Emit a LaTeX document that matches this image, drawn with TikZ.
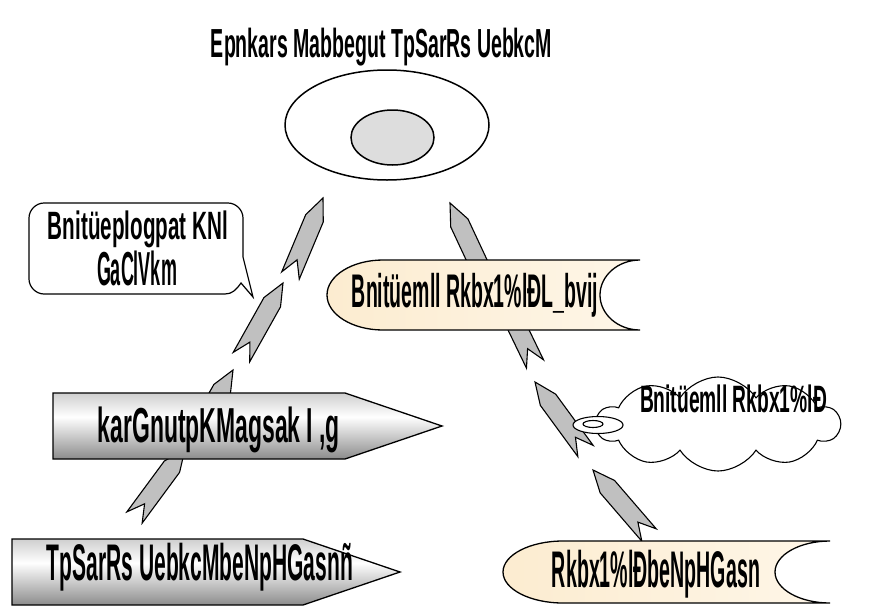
\documentclass[tikz,border=0pt]{standalone}
\usepackage{fontspec}
\setmainfont{Liberation Sans}
\usetikzlibrary{calc,shapes.geometric,shapes.symbols}

\definecolor{boltgray}{HTML}{C0C0C0}
\definecolor{coregray}{HTML}{DDDDDD}
\definecolor{steeltop}{HTML}{CFCFCF}
\definecolor{steelbot}{HTML}{8C8C8C}
\definecolor{creamleft}{RGB}{252,236,208}
\definecolor{creamright}{RGB}{254,246,232}

\pgfdeclareverticalshading{steel}{100bp}{color(0bp)=(steelbot); color(25bp)=(steelbot); color(57bp)=(white); color(75bp)=(steeltop); color(100bp)=(steeltop)}

% squeeze a text into a box of given width and height
\newcommand{\squash}[3]{\resizebox*{#1pt}{#2pt}{\bfseries #3}}
% notched arrow from tail (#1) to tip (#2)
\newcommand{\bolt}[2]{%
  \draw[bolt] ($(#1)!17pt!(#2)$) -- ($(#1)!9.5pt!90:(#2)$) -- ($(#2)!22pt!(#1)!9.5pt!-90:(#1)$) -- (#2) -- ($(#2)!22pt!(#1)!9.5pt!90:(#1)$) -- ($(#1)!9.5pt!-90:(#2)$) -- cycle;}

\begin{document}
\begin{tikzpicture}[x=1pt, y=-1pt,
	bolt/.style={draw=black, fill=boltgray, line width=1.1pt, line join=miter},
	word/.style={inner sep=0pt, text=black},
	banner/.style={draw=black, line width=1.3pt, left color=creamleft, right color=creamright}]

	\fill[white] (0,0) rectangle (869,608);
	\useasboundingbox (0,0) rectangle (869,608);

	% Arrow ends
	%Left chain
	\coordinate (lonetail) at (134.5,517.5);
	\coordinate (lonetip) at (185,449);
	\coordinate (ltwotail) at (191,444);
	\coordinate (ltwotip) at (233,370);
	\coordinate (lthreetail) at (241.5,357);
	\coordinate (lthreetip) at (283,283);
	\coordinate (lfourtail) at (290.5,275.5);
	\coordinate (lfourtip) at (323,198);
	%Right chain
	\coordinate (ronetail) at (486,280);
	\coordinate (ronetip) at (450,203);
	\coordinate (rtwotail) at (535,364);
	\coordinate (rtwotip) at (498,287.5);
	\coordinate (rthreetail) at (585.5,451);
	\coordinate (rthreetip) at (535,382);
	\coordinate (rfourtail) at (649,535);
	\coordinate (rfourtip) at (593,470);

	% Draw arrows
	\bolt{lonetail}{lonetip}
	\bolt{ltwotail}{ltwotip}
	\bolt{lthreetail}{lthreetip}
	\bolt{lfourtail}{lfourtip}
	\bolt{ronetail}{ronetip}
	\bolt{rtwotail}{rtwotip}
	\bolt{rthreetail}{rthreetip}
	\bolt{rfourtail}{rfourtip}

	% Target ellipses
	\node[ellipse, draw, line width=1.5pt, inner sep=0pt, minimum width=204pt, minimum height=110pt] (target) at (387,125) {};
	\node[ellipse, draw, line width=1.5pt, fill=coregray, inner sep=0pt, minimum width=83pt, minimum height=55pt] (core) at (392.5,137.5) {};
	\node[word] (title) at (381.5,47) {\squash{341}{38}{Epnkars Mabbegut TpSarRs UebkcM}};

	% Speech callout
	\draw[line width=1.2pt, fill=white] (29,218) .. controls (29,210) and (36,203) .. (44,203) -- (228,203) .. controls (236,203) and (243,210) .. (243,218) -- (243,257) -- (253,297) -- (241,283) .. controls (236,290) and (232,294) .. (225,294) -- (44,294) .. controls (36,294) and (29,287) .. (29,279) -- cycle;
	\node[word] (noteone) at (138,229) {\squash{180}{37}{Bnitüeplogpat KNl}};
	\node[word] (notetwo) at (137,268) {\squash{80}{35}{GaClVkm}};

	% Pointer boxes
	\shadedraw[shading=steel, line width=1.3pt] (53,393) -- (345,393) -- (442,426) -- (345,459) -- (53,459) -- cycle;
	\node[word] (plan) at (219,430) {\squash{242}{46}{karGnutpKMagsak I ,g}};
	\shadedraw[shading=steel, line width=1.3pt] (12,539) -- (303,539) -- (400,572) -- (303,605) -- (12,605) -- cycle;
	\node[word] (base) at (200,567) {\squash{306}{48}{TpSarRs UebkcMbeNpHGasnñ}};

	% Banners
	\draw[banner] (383,260) -- (640,260) .. controls (618,260) and (600,275.7) .. (600,295) .. controls (600,314.3) and (618,330) .. (640,330) -- (383,330) .. controls (352.1,330) and (327,314.3) .. (327,295) .. controls (327,275.7) and (352.1,260) .. cycle;
	\node[word] (path) at (475,295) {\squash{246}{44}{Bnitüemll Rkbx1\%lĐL\_bvij}};
	\draw[banner] (563,541) -- (830,541) .. controls (799.6,541) and (775,554.9) .. (775,572) .. controls (775,589.1) and (799.6,603) .. (830,603) -- (563,603) .. controls (529.9,603) and (503,589.1) .. (503,572) .. controls (503,554.9) and (529.9,541) .. cycle;
	\node[word] (result) at (656,574) {\squash{208}{48}{Rkbx1\%lĐbeNpHGasn}};

	% Thought cloud
	\node[cloud, draw, line width=1.1pt, fill=white, cloud puffs=10, cloud puff arc=115, aspect=2.5, inner sep=0pt, minimum width=243pt, minimum height=94pt] (thought) at (718,424) {};
	\node[ellipse, draw, line width=1.1pt, fill=white, inner sep=0pt, minimum width=50pt, minimum height=17pt] (ringout) at (598,425) {};
	\node[ellipse, draw, line width=1.1pt, inner sep=0pt, minimum width=20pt, minimum height=7pt] (ringin) at (593,424) {};
	\node[word] (idea) at (733.5,399) {\squash{187}{28}{Bnitüemll Rkbx1\%lĐ}};

\end{tikzpicture}
\end{document}
